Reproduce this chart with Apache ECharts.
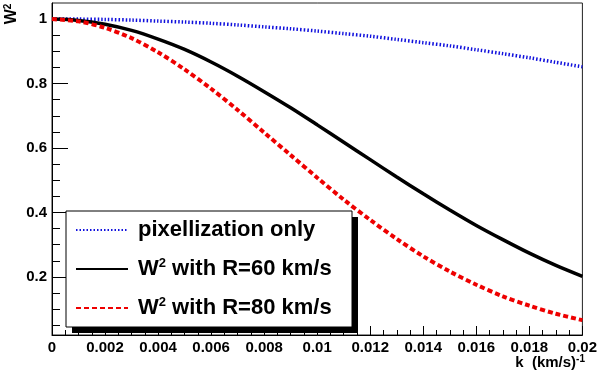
<!DOCTYPE html>
<html>
<head>
<meta charset="utf-8">
<script src="https://cdn.jsdelivr.net/npm/echarts@6/dist/echarts.min.js"></script>
<style>
  html, body { margin: 0; padding: 0; background: #fff; }
  #chart { width: 600px; height: 373px; }
</style>
</head>
<body>
<div id="chart"></div>
<script>
// k values (km/s)^-1
const kValues = [0, 0.001, 0.002, 0.003, 0.004, 0.005, 0.006, 0.007, 0.008, 0.009, 0.010,
  0.011, 0.012, 0.013, 0.014, 0.015, 0.016, 0.017, 0.018, 0.019, 0.020]

// W^2 curves
const pixOnly = [1.000, 1.000, 0.999, 0.997, 0.994, 0.991, 0.987, 0.982, 0.976, 0.970, 0.963,
  0.955, 0.947, 0.937, 0.927, 0.917, 0.905, 0.893, 0.880, 0.866, 0.852]
const r60 = [1.000, 0.996, 0.984, 0.965, 0.938, 0.906, 0.867, 0.823, 0.775, 0.725, 0.672,
  0.618, 0.564, 0.510, 0.458, 0.408, 0.360, 0.316, 0.274, 0.236, 0.202]
const r80 = [1.000, 0.993, 0.973, 0.941, 0.897, 0.844, 0.784, 0.718, 0.648, 0.578, 0.508,
  0.440, 0.377, 0.318, 0.264, 0.217, 0.176, 0.140, 0.111, 0.086, 0.066]

const yMajorTicks = [0.2, 0.4, 0.6, 0.8, 1]
const yMinorTicks = [0.05, 0.1, 0.15, 0.25, 0.3, 0.35, 0.45, 0.5, 0.55, 0.65, 0.7, 0.75,
  0.85, 0.9, 0.95]

const legendNames = {
  pix: 'pixellization only',
  r60: '{b|W}{s|2}{b| with R=60 km/s}',
  r80: '{b|W}{s|2}{b| with R=80 km/s}',
}

const FONT = 'Liberation Sans, Arial, Helvetica, sans-serif'

const pairs = (ys) => kValues.map((k, i) => [k, ys[i]])

const myChart = echarts.init(document.getElementById('chart'))

const option = {
  animation: false,
  backgroundColor: '#fff',
  grid: {
    left: 52,
    right: 15,
    top: 3,
    bottom: 38,
    show: true,
    borderColor: '#222',
    borderWidth: 1,
  },
  xAxis: {
    type: 'value',
    min: 0,
    max: 0.02,
    interval: 0.002,
    axisLine: { lineStyle: { color: '#000', width: 1 } },
    axisTick: { inside: true, length: 9, lineStyle: { color: '#000' } },
    minorTick: { show: true, splitNumber: 4, length: 5, lineStyle: { color: '#000' } },
    splitLine: { show: false },
    axisLabel: {
      margin: 5,
      color: '#000',
      fontFamily: FONT,
      fontWeight: 'bold',
      fontSize: 15,
      formatter: (v) => String(+v.toFixed(3)),
    },
  },
  yAxis: [
    {
      type: 'value',
      min: 0.02,
      max: 1.05,
      axisLine: { show: true, lineStyle: { color: '#000', width: 1 } },
      axisTick: { inside: true, length: 16, customValues: yMajorTicks, lineStyle: { color: '#000' } },
      splitLine: { show: false },
      axisLabel: {
        customValues: yMajorTicks,
        margin: 5,
        color: '#000',
        fontFamily: FONT,
        fontWeight: 'bold',
        fontSize: 15,
        formatter: (v) => String(+v.toFixed(2)),
      },
    },
    {
      type: 'value',
      min: 0.02,
      max: 1.05,
      position: 'left',
      axisLine: { show: false },
      axisTick: { inside: true, length: 8, customValues: yMinorTicks, lineStyle: { color: '#000' } },
      axisLabel: { show: false },
      splitLine: { show: false },
    },
  ],
  legend: {
    orient: 'vertical',
    left: 75,
    top: 218,
    z: 10,
    padding: 0,
    itemWidth: 52,
    itemHeight: 14,
    itemGap: 15,
    itemStyle: { color: 'rgba(0,0,0,0)', opacity: 0, borderWidth: 0 },
    data: ['pix', 'r60', 'r80'],
    formatter: (name) => legendNames[name],
    textStyle: {
      color: '#000',
      fontFamily: FONT,
      fontWeight: 'bold',
      fontSize: 22,
      lineHeight: 24,
      padding: [0, 0, 0, 5],
      rich: {
        b: { fontFamily: FONT, fontWeight: 'bold', fontSize: 22, lineHeight: 24 },
        s: { fontFamily: FONT, fontWeight: 'bold', fontSize: 13, lineHeight: 24, verticalAlign: 'top' },
      },
    },
  },
  graphic: [
    // legend shadow and frame
    { type: 'rect', z: 5, shape: { x: 72, y: 217, width: 286, height: 116 }, style: { fill: '#000' } },
    { type: 'rect', z: 6, shape: { x: 66, y: 211, width: 286, height: 116 }, style: { fill: '#fff', stroke: '#000', lineWidth: 1 } },
    // y axis title
    {
      type: 'text',
      x: 12,
      y: 14,
      rotation: Math.PI / 2,
      style: {
        text: '{a|W}{s|2}',
        align: 'center',
        verticalAlign: 'middle',
        fill: '#000',
        rich: {
          a: { fontFamily: FONT, fontWeight: 'bold', fontSize: 16, lineHeight: 18 },
          s: { fontFamily: FONT, fontWeight: 'bold', fontSize: 10, lineHeight: 18, verticalAlign: 'top' },
        },
      },
    },
    // x axis title
    {
      type: 'text',
      right: 15,
      top: 354,
      style: {
        text: '{a|k  (km/s)}{s|-1}',
        fill: '#000',
        rich: {
          a: { fontFamily: FONT, fontWeight: 'bold', fontSize: 15, lineHeight: 18 },
          s: { fontFamily: FONT, fontWeight: 'bold', fontSize: 10, lineHeight: 18, verticalAlign: 'top' },
        },
      },
    },
  ],
  series: [
    {
      name: 'pix',
      type: 'line',
      data: pairs(pixOnly),
      smooth: 0.3,
      symbol: 'none',
      lineStyle: { color: '#1010dd', width: 3.5, type: [1.5, 2], cap: 'butt' },
      itemStyle: { color: '#1010dd' },
    },
    {
      name: 'r60',
      type: 'line',
      data: pairs(r60),
      smooth: 0.3,
      symbol: 'none',
      lineStyle: { color: '#000', width: 3.5 },
      itemStyle: { color: '#000' },
    },
    {
      name: 'r80',
      type: 'line',
      data: pairs(r80),
      smooth: 0.3,
      symbol: 'none',
      lineStyle: { color: '#ee0000', width: 4, type: [5, 3], cap: 'butt' },
      itemStyle: { color: '#ee0000' },
    },
  ],
}

myChart.setOption(option)
</script>
</body>
</html>
